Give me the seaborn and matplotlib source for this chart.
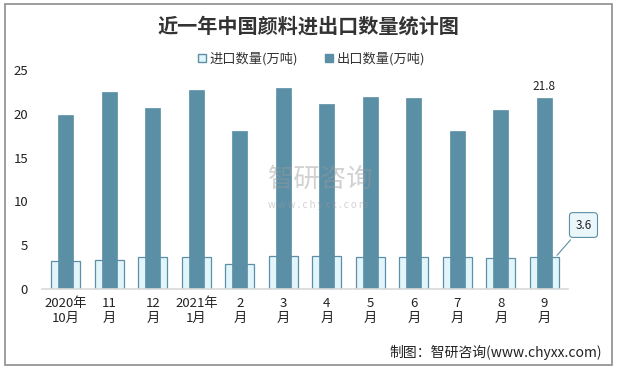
import matplotlib
matplotlib.use("Agg")
import matplotlib.pyplot as plt
from matplotlib.patches import Patch, Rectangle
import pandas as pd
import seaborn as sns

months = ["2020年\n10月", "11\n月", "12\n月", "2021年\n1月", "2\n月", "3\n月",
          "4\n月", "5\n月", "6\n月", "7\n月", "8\n月", "9\n月"]
import_qty = [3.2, 3.3, 3.7, 3.6, 2.9, 3.8, 3.8, 3.6, 3.6, 3.6, 3.5, 3.6]
export_qty = [19.9, 22.5, 20.7, 22.7, 18.0, 22.9, 21.1, 21.9, 21.8, 18.0, 20.4, 21.8]

EXP_COLOR = "#5b8fa6"
IMP_FILL = "#e2f5fb"
IMP_EDGE = "#5b8fa6"

sns.set_style("white")
plt.rcParams["font.family"] = ["Noto Sans CJK SC", "DejaVu Sans"]

df = pd.DataFrame({"month": months, "imp": import_qty, "exp": export_qty})

fig = plt.figure(figsize=(6.17, 3.69), dpi=100)
ax = fig.add_axes([0.068, 0.217, 0.853, 0.593])

sns.barplot(data=df, x="month", y="imp", ax=ax, width=0.67, color=IMP_FILL,
            edgecolor=IMP_EDGE, linewidth=0.9, saturation=1)
sns.barplot(data=df, x="month", y="exp", ax=ax, width=0.34, color=EXP_COLOR,
            edgecolor=EXP_COLOR, linewidth=0.5, saturation=1)

ax.set_ylim(0, 25)
ax.set_xlim(-0.55, len(months) - 0.45)
ax.set_yticks([0, 5, 10, 15, 20, 25])
ax.set_xlabel("")
ax.set_ylabel("")
ax.tick_params(axis="both", length=0, labelsize=9.5, colors="#222222")
ax.tick_params(axis="x", pad=6)
ax.tick_params(axis="y", pad=10)
for s in ["top", "right", "left"]:
    ax.spines[s].set_visible(False)
ax.spines["bottom"].set_color("#d9d9d9")
ax.spines["bottom"].set_linewidth(1.2)

# value labels on the last month
last = len(months) - 1
ax.text(last, export_qty[-1] + 0.6, f"{export_qty[-1]}", ha="center", va="bottom",
        fontsize=8.5, color="#222222")
ax.annotate(f"{import_qty[-1]}", xy=(last + 0.25, import_qty[-1]),
            xytext=(last + 0.9, 7.3), ha="center", va="center", fontsize=8.5,
            color="#222222",
            bbox=dict(boxstyle="round,pad=0.5,rounding_size=0.3", fc="#eaf6f9",
                      ec=IMP_EDGE, lw=0.8),
            arrowprops=dict(arrowstyle="-", color=IMP_EDGE, lw=0.8),
            annotation_clip=False)

# watermark
fig.text(0.52, 0.515, "智研咨询", ha="center", va="center", fontsize=19,
         color="#9a9a9a", alpha=0.45)
fig.text(0.515, 0.445, "w w w . c h y x x . c o m", ha="center", va="center",
         fontsize=7, color="#9a9a9a", alpha=0.45)

fig.text(0.5, 0.93, "近一年中国颜料进出口数量统计图", ha="center", va="center",
         fontsize=14.5, fontweight="bold", color="#333333")

handles = [Patch(facecolor=IMP_FILL, edgecolor=IMP_EDGE, label="进口数量(万吨)"),
           Patch(facecolor=EXP_COLOR, edgecolor=EXP_COLOR, label="出口数量(万吨)")]
fig.legend(handles=handles, loc="center", bbox_to_anchor=(0.505, 0.84), ncol=2,
           frameon=False, fontsize=9.5, handlelength=0.6, handleheight=0.6,
           handletextpad=0.3, columnspacing=2.0, labelcolor="#333333")

fig.text(0.975, 0.045, "制图：智研咨询(www.chyxx.com)", ha="right", va="center",
         fontsize=10, color="#222222")

fig.patches.append(Rectangle((0.008, 0.012), 0.984, 0.976, transform=fig.transFigure,
                             fill=False, ec="#8c8c8c", lw=1.2))

fig.savefig("out.png", dpi=100)
